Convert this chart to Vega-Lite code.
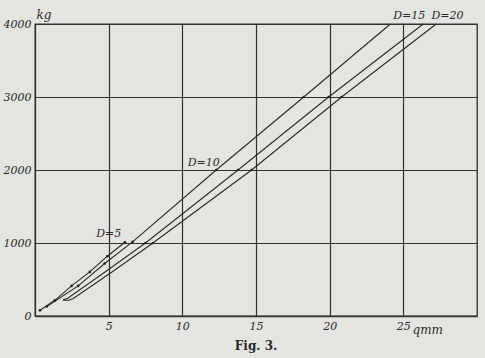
{
  "$schema": "https://vega.github.io/schema/vega-lite/v6.json",
  "width": 442,
  "height": 292,
  "autosize": {"type": "none"},
  "padding": {"left": 35, "top": 24, "right": 8, "bottom": 42},
  "background": "#e4e4e0",
  "title": {"text": "Fig. 3.", "orient": "bottom", "font": "DejaVu Serif", "fontSize": 12, "fontWeight": "bold", "color": "#2a2a2a", "offset": 6},
  "config": {
    "view": {"stroke": "#303030", "strokeWidth": 1.3},
    "axis": {"labelFont": "DejaVu Serif", "labelFontStyle": "italic", "labelFontSize": 11, "labelColor": "#2a2a2a", "domainColor": "#303030", "domainWidth": 1.3, "gridColor": "#303030", "gridOpacity": 1, "gridWidth": 1.2, "ticks": false, "titleFont": "DejaVu Serif", "titleFontStyle": "italic", "titleFontWeight": "normal", "titleFontSize": 12, "titleColor": "#2a2a2a"}
  },
  "datasets": {
    "curves": [
      {"D": "5", "area": 0.34, "load": 78, "obs": 1},
      {"D": "5", "area": 1.35, "load": 215, "obs": 1},
      {"D": "5", "area": 2.48, "load": 412, "obs": 1},
      {"D": "5", "area": 3.72, "load": 604, "obs": 1},
      {"D": "5", "area": 4.91, "load": 819, "obs": 1},
      {"D": "5", "area": 6.1, "load": 1010, "obs": 1},
      {"D": "10", "area": 0.8, "load": 130, "obs": 1},
      {"D": "10", "area": 2.93, "load": 412, "obs": 1},
      {"D": "10", "area": 4.73, "load": 719, "obs": 1},
      {"D": "10", "area": 6.62, "load": 1015, "obs": 1},
      {"D": "10", "area": 12.3, "load": 2000, "obs": 1},
      {"D": "10", "area": 18.24, "load": 3000, "obs": 1},
      {"D": "10", "area": 24.12, "load": 4000, "obs": 0},
      {"D": "15", "area": 1.9, "load": 222, "obs": 0},
      {"D": "15", "area": 2.2, "load": 240, "obs": 0},
      {"D": "15", "area": 4.8, "load": 610, "obs": 0},
      {"D": "15", "area": 7.5, "load": 1000, "obs": 1},
      {"D": "15", "area": 13.78, "load": 2000, "obs": 1},
      {"D": "15", "area": 19.93, "load": 3000, "obs": 1},
      {"D": "15", "area": 26.35, "load": 4000, "obs": 0},
      {"D": "20", "area": 1.9, "load": 218, "obs": 0},
      {"D": "20", "area": 2.3, "load": 215, "obs": 0},
      {"D": "20", "area": 2.6, "load": 240, "obs": 0},
      {"D": "20", "area": 5.2, "load": 600, "obs": 0},
      {"D": "20", "area": 8.0, "load": 1000, "obs": 1},
      {"D": "20", "area": 14.7, "load": 2000, "obs": 1},
      {"D": "20", "area": 20.81, "load": 3000, "obs": 1},
      {"D": "20", "area": 27.23, "load": 4000, "obs": 0}
    ],
    "labels": [
      {"text": "D=5", "area": 5.0, "load": 1130},
      {"text": "D=10", "area": 11.45, "load": 2095},
      {"text": "D=15", "area": 25.4, "load": 4115},
      {"text": "D=20", "area": 28.0, "load": 4115}
    ]
  },
  "layer": [
    {
      "data": {"name": "curves"},
      "mark": {"type": "line", "color": "#2a2a2a", "strokeWidth": 1.1, "clip": false},
      "encoding": {
        "x": {"field": "area", "type": "quantitative", "scale": {"domain": [0, 30], "nice": false},
          "axis": {"values": [5, 10, 15, 20, 25], "format": "d", "labelPadding": 4, "title": "qmm", "titleX": 377, "titleY": 20, "titleAlign": "left", "titleBaseline": "bottom", "labelBaseline": "top"}},
        "y": {"field": "load", "type": "quantitative", "scale": {"domain": [0, 4000], "nice": false},
          "axis": {"values": [0, 1000, 2000, 3000, 4000], "format": "d", "labelPadding": 4, "title": "kg", "titleAngle": 0, "titleX": 1, "titleY": -3, "titleAlign": "left", "titleBaseline": "bottom"}},
        "detail": {"field": "D"},
        "order": {"field": "area"}
      }
    },
    {
      "data": {"name": "curves"},
      "transform": [{"filter": "datum.obs == 1"}],
      "mark": {"type": "circle", "color": "#222222", "size": 7, "opacity": 1},
      "encoding": {
        "x": {"field": "area", "type": "quantitative"},
        "y": {"field": "load", "type": "quantitative"}
      }
    },
    {
      "data": {"name": "labels"},
      "mark": {"type": "text", "font": "DejaVu Serif", "fontStyle": "italic", "fontSize": 11, "color": "#2a2a2a", "clip": false},
      "encoding": {
        "x": {"field": "area", "type": "quantitative"},
        "y": {"field": "load", "type": "quantitative"},
        "text": {"field": "text"}
      }
    }
  ]
}
